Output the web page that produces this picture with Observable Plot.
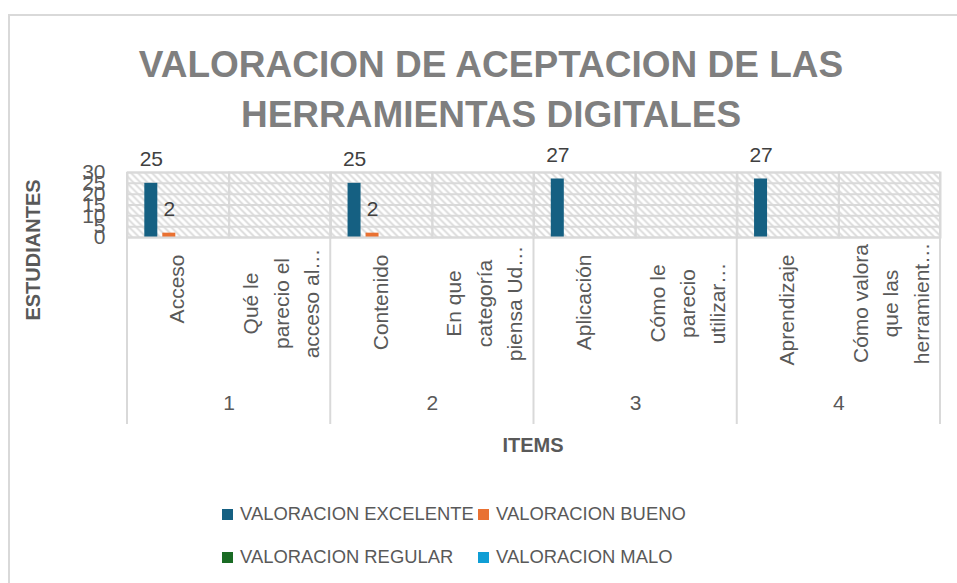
<!DOCTYPE html>
<html>
<head>
<meta charset="utf-8">
<script src="https://cdn.jsdelivr.net/npm/d3@7"></script>
<script src="https://cdn.jsdelivr.net/npm/@observablehq/plot@0.6"></script>
<style>
  body { margin: 0; background: #fff; font-family: "Liberation Sans", Arial, sans-serif; }
  #wrap { position: relative; width: 957px; height: 583px; overflow: hidden; background: #fff; }
  #border { position: absolute; left: 8px; top: 14px; width: 1000px; height: 700px;
            border-top: 2px solid #d9d9d9; border-left: 2px solid #d9d9d9; }
  #title { position: absolute; left: 9px; width: 964px; top: 40px; text-align: center;
           font-weight: bold; font-size: 37px; line-height: 50px; color: #7f7f7f; }
  #chart { position: absolute; left: 0; top: 140px; }
  #ytitle { position: absolute; left: 33px; top: 250px; transform: translate(-50%, -50%) rotate(-90deg);
            font-weight: bold; font-size: 20px; color: #595959; white-space: nowrap; line-height: 20px; }
  #xtitle { position: absolute; left: 533px; top: 435px; transform: translateX(-50%);
            font-weight: bold; font-size: 20px; line-height: 20px; color: #595959; white-space: nowrap; }
  .lrow { position: absolute; left: 222px; height: 20px; display: flex; align-items: center; }
  .litem { width: 256px; display: flex; align-items: center; font-size: 18.4px; line-height: 20px; color: #595959; white-space: nowrap; }
  .sw { width: 11px; height: 11px; margin-right: 7px; flex: none; }
</style>
</head>
<body>
<div id="wrap">
  <div id="border"></div>
  <div id="title">VALORACION DE ACEPTACION DE LAS<br>HERRAMIENTAS DIGITALES</div>
  <div id="chart"></div>
  <div id="ytitle">ESTUDIANTES</div>
  <div id="xtitle">ITEMS</div>
  <div class="lrow" id="lrow1" style="top:504px"></div>
  <div class="lrow" id="lrow2" style="top:547px"></div>
</div>
<script>
// ---- data ----
const subLabels = [
  "Acceso",
  "Qué le\nparecio el\nacceso al…",
  "Contenido",
  "En que\ncategoría\npiensa Ud…",
  "Aplicación",
  "Cómo le\nparecio\nutilizar…",
  "Aprendizaje",
  "Cómo valora\nque las\nherramient…"
];
const groupLabels = ["1", "1", "2", "2", "3", "3", "4", "4"];
const seriesNames = ["VALORACION EXCELENTE", "VALORACION BUENO", "VALORACION REGULAR", "VALORACION MALO"];
const excelente = [25, null, 25, null, 27, null, 27, null];
const bueno     = [2, null, 2, null, null, null, null, null];
const regular   = [null, null, null, null, null, null, null, null];
const malo      = [null, null, null, null, null, null, null, null];
const yTicks = [0, 5, 10, 15, 20, 25, 30];
const seriesColors = ["#156082", "#E97132", "#196B24", "#0F9ED5"];

// ---- table ----
const seriesValues = [excelente, bueno, regular, malo];
const rows = [];
subLabels.forEach((sub, i) => {
  seriesNames.forEach((s, j) => {
    rows.push({sub, group: groupLabels[i], series: s, value: seriesValues[j][i]});
  });
});
const valued = rows.filter(d => d.value != null);
const subRows = subLabels.map((sub, i) => ({sub, group: groupLabels[i]}));
const singleLine = subRows.filter(d => !d.sub.includes("\n"));
const multiLine = subRows.filter(d => d.sub.includes("\n"));
const groupStarts = subRows.filter((d, i) => i === 0 || groupLabels[i - 1] !== d.group);
const lastSub = [subRows[subRows.length - 1]];

// ---- layout ----
const W = 957, H = 300, ML = 127, MR = 17, MT = 32, MB = 203;
const facetW = (W - ML - MR) / subLabels.length;
const grey = "#d9d9d9";
const labelDrop = 187;

const chart = Plot.plot({
  width: W, height: H,
  marginLeft: ML, marginRight: MR, marginTop: MT, marginBottom: MB,
  style: {fontFamily: "Liberation Sans, Arial, sans-serif", color: "#595959", background: "transparent", overflow: "visible"},
  fx: {domain: subLabels, padding: 0, round: false, axis: null, label: null},
  x: {domain: seriesNames, paddingInner: 0.278, paddingOuter: 0.961, round: false, axis: null},
  y: {domain: [0, 30]},
  color: {domain: seriesNames, range: seriesColors},
  marks: [
    Plot.frame({fill: "url(#hatch)", stroke: null}),
    Plot.gridY(yTicks, {stroke: grey, strokeOpacity: 1, strokeWidth: 2}),
    Plot.barY(valued, {fx: "sub", x: "series", y: "value", fill: "series"}),
    Plot.frame({stroke: grey, strokeWidth: 2}),
    Plot.barY(groupStarts, {fx: "sub", y1: 0, y2: 30, fill: grey, insetLeft: -1, insetRight: facetW - 1, insetBottom: -labelDrop}),
    Plot.barY(lastSub, {fx: "sub", y1: 0, y2: 30, fill: grey, insetLeft: facetW - 1, insetRight: -1, insetBottom: -labelDrop}),
    Plot.axisY({ticks: yTicks, tickSize: 0, tickPadding: 22, fontSize: 21, label: null}),
    Plot.text(valued, {fx: "sub", x: "series", y: "value", text: d => String(d.value), dy: -24, fontSize: 21, fill: "#404040"}),
    Plot.text(singleLine, {fx: "sub", x: null, y: null, text: "sub", frameAnchor: "bottom", textAnchor: "end",
      dy: 17, dx: 6, rotate: -90, fontSize: 21, fill: "#595959"}),
    Plot.text(multiLine, {fx: "sub", x: null, y: null, text: "sub", frameAnchor: "bottom", textAnchor: "middle",
      dy: 66, dx: 39, rotate: -90, fontSize: 21, lineHeight: 1.45, fill: "#595959"}),
    Plot.text(groupStarts, {fx: "sub", x: null, y: null, text: "group", frameAnchor: "bottom-right", textAnchor: "middle",
      dy: 172, fontSize: 21, fill: "#595959"})
  ]
});

// hatch pattern
const defs = d3.select(chart).insert("defs", ":first-child");
const pat = defs.append("pattern").attr("id", "hatch").attr("patternUnits", "userSpaceOnUse")
  .attr("width", 7).attr("height", 7);
pat.append("rect").attr("width", 7).attr("height", 7).attr("fill", "#fff");
pat.append("path").attr("d", "M0,0L7,7M-1,6L1,8M6,-1L8,1")
  .attr("stroke", grey).attr("stroke-width", 1.8);

document.getElementById("chart").appendChild(chart);

// legend
const rowsEl = [document.getElementById("lrow1"), document.getElementById("lrow2")];
seriesNames.forEach((s, i) => {
  const item = document.createElement("div");
  item.className = "litem";
  const sw = document.createElement("span");
  sw.className = "sw";
  sw.style.background = seriesColors[i];
  item.appendChild(sw);
  item.appendChild(document.createTextNode(s));
  rowsEl[Math.floor(i / 2)].appendChild(item);
});
</script>
</body>
</html>
